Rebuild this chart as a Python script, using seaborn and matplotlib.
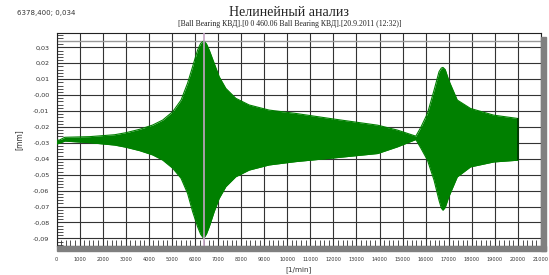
import matplotlib
matplotlib.use("Agg")
import matplotlib.pyplot as plt
import matplotlib.ticker as mticker
from matplotlib.patches import Rectangle
import pandas as pd
import seaborn as sns

# %%
# envelope of the response
rpm = [0, 120, 360, 1440, 2520, 3020, 3600, 4170, 4600, 5040, 5400, 5680,
       5900, 6115, 6250, 6378, 6500, 6620, 6835, 7050, 7340, 7770, 8350,
       9210, 10360, 12000, 13920, 14780, 15575, 15800, 16080, 16365, 16580,
       16680, 16750, 16850, 17000, 17370, 17945, 18950, 20000]
upper = [-0.0282, -0.0283, -0.0265, -0.0261, -0.0249, -0.0236, -0.0215,
         -0.0188, -0.0157, -0.0104, -0.0031, 0.0074, 0.0179, 0.0283, 0.0325,
         0.0340, 0.0322, 0.0283, 0.0200, 0.0116, 0.0042, -0.0020, -0.0062,
         -0.0094, -0.0115, -0.0150, -0.0189, -0.0220, -0.0258, -0.0200,
         -0.0115, 0.0031, 0.0147, 0.0170, 0.0174, 0.0160, 0.0094, -0.0031,
         -0.0084, -0.0126, -0.0147]
lower = [-0.0307, -0.0303, -0.0289, -0.0299, -0.0314, -0.0328, -0.0349,
         -0.0376, -0.0408, -0.0460, -0.0523, -0.0617, -0.0732, -0.0827,
         -0.0875, -0.0900, -0.0872, -0.0827, -0.0732, -0.0649, -0.0575,
         -0.0513, -0.0471, -0.0439, -0.0418, -0.0395, -0.0367, -0.0325,
         -0.0279, -0.0335, -0.0409, -0.0535, -0.0661, -0.0710, -0.0723,
         -0.0705, -0.0640, -0.0514, -0.0451, -0.0420, -0.0409]

cursor_x = 6378.4
cursor_y = 0.034

x_ticks = list(range(0, 21001, 1000))
y_ticks = [0.03, 0.02, 0.01, 0.0, -0.01, -0.02, -0.03, -0.04, -0.05,
           -0.06, -0.07, -0.08, -0.09]
y_labels = ["0,03", "0,02", "0,01", "-0,00", "-0,01", "-0,02", "-0,03",
            "-0,04", "-0,05", "-0,06", "-0,07", "-0,08", "-0,09"]

df = pd.DataFrame({"rpm": rpm, "upper": upper, "lower": lower})

# %%
sns.set_style("white")
plt.rcParams["font.family"] = ["DejaVu Sans"]

fig = plt.figure(figsize=(5.49, 2.75), dpi=100)
ax = fig.add_axes([56.5 / 549, 1 - 246 / 275, (541 - 56.5) / 549, (246 - 32.7) / 275])

green = "#008000"
ax.fill_between(df["rpm"], df["lower"], df["upper"], color=green, lw=0, zorder=3)
sns.lineplot(data=df, x="rpm", y="upper", color=green, lw=0.8, ax=ax, zorder=3)
sns.lineplot(data=df, x="rpm", y="lower", color=green, lw=0.8, ax=ax, zorder=3)
# dark edge where the run stops
ax.vlines(rpm[-1], lower[-1], upper[-1], color="#003300", lw=1.2, zorder=3)

# cursor
ax.axvline(cursor_x, color="#c4a4c4", lw=1.2, zorder=4)
ax.axhline(cursor_y, color="#999999", lw=1.0, zorder=1)

ax.set_xlim(0, 21000)
ax.set_ylim(-0.0948, 0.0392)

ax.set_xticks(x_ticks)
ax.set_xticklabels([str(v) for v in x_ticks])
ax.set_yticks(y_ticks)
ax.set_yticklabels(y_labels)
ax.xaxis.set_minor_locator(mticker.MultipleLocator(200))
ax.yaxis.set_minor_locator(mticker.MultipleLocator(0.002))

ax.grid(True, which="major", color="#333333", lw=0.8, zorder=0)
ax.set_axisbelow(True)

ax.tick_params(axis="y", which="major", direction="in", length=5, width=0.7,
               labelsize=4.6, labelcolor="#333333", pad=5, color="#333333")
ax.tick_params(axis="y", which="minor", direction="in", length=4, width=0.6,
               color="#333333", left=True)
ax.tick_params(axis="x", which="major", direction="in", length=0,
               labelsize=3.6, labelcolor="#333333", pad=8)
ax.tick_params(axis="x", which="minor", direction="in", length=4, width=0.6,
               color="#333333", bottom=True)

for side in ["left", "top", "right", "bottom"]:
    ax.spines[side].set_color("#222222")
    ax.spines[side].set_linewidth(0.8)

ax.set_xlabel("[1/min]", fontsize=5.2, color="#333333", labelpad=3)
ax.set_ylabel("[mm]", fontsize=5.5, color="#333333", labelpad=7)

# shadow bars under and right of the plot frame
fig.patches.append(Rectangle((56.5 / 549, 1 - 251 / 275), (546 - 56.5) / 549, 5 / 275,
                             transform=fig.transFigure, color="#808080", zorder=0))
fig.patches.append(Rectangle((541 / 549, 1 - 251 / 275), 5 / 549, (251 - 37) / 275,
                             transform=fig.transFigure, color="#808080", zorder=0))

fig.text(289 / 549, 1 - 12 / 275, "Нелинейный анализ", ha="center", va="center",
         fontsize=10, family="Liberation Serif", color="#222222")
fig.text(290 / 549, 1 - 24 / 275,
         "[Ball Bearing КВД].[0 0 460.06 Ball Bearing КВД].[20.9.2011 (12:32)]",
         ha="center", va="center", fontsize=5.6, family="Liberation Serif",
         color="#222222")
fig.text(17 / 549, 1 - 13 / 275, "6378,400; 0,034", ha="left", va="center",
         fontsize=5, color="#333333")

fig.savefig("out.png", dpi=100)
